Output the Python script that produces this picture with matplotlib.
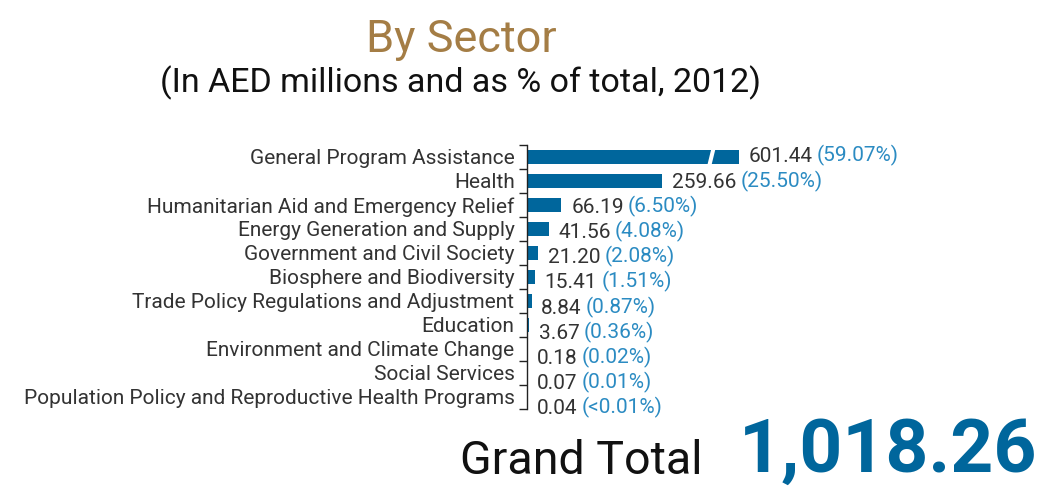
import matplotlib
matplotlib.use("Agg")
import matplotlib.pyplot as plt
from matplotlib.patches import Polygon

# ---------------------------------------------------------------- data
sectors = [
    "General Program Assistance",
    "Health",
    "Humanitarian Aid and Emergency Relief",
    "Energy Generation and Supply",
    "Government and Civil Society",
    "Biosphere and Biodiversity",
    "Trade Policy Regulations and Adjustment",
    "Education",
    "Environment and Climate Change",
    "Social Services",
    "Population Policy and Reproductive Health Programs",
]
values = [601.44, 259.66, 66.19, 41.56, 21.20, 15.41, 8.84, 3.67, 0.18, 0.07, 0.04]
shares = ["59.07%", "25.50%", "6.50%", "4.08%", "2.08%", "1.51%",
          "0.87%", "0.36%", "0.02%", "0.01%", "<0.01%"]
grand_total = "1,018.26"

title = "By Sector"
subtitle = "(In AED millions and as % of total, 2012)"

# ---------------------------------------------------------------- style
FONT = "Roboto"
BAR = "#00669c"
PCT = "#2b8bc2"
TXT = "#333333"
GOLD = "#a47d45"
BREAK_CAP = 408          # longest bar is cut at this length (broken bar)
LBL = 15

plt.rcParams["font.family"] = [FONT, "DejaVu Sans"]

fig = plt.figure(figsize=(10.43, 4.92), dpi=100)
W, H = 1043, 492
ax = fig.add_axes([527 / W, 1 - 409 / H, 516 / W, 264 / H])
ax.set_xlim(0, 992)
ax.set_ylim(len(sectors) - 0.5, -0.5)

shown = [min(v, BREAK_CAP) for v in values]
ax.barh(range(len(sectors)), shown, height=0.58, color=BAR, zorder=2)

# slanted gap in the cut bar
for i, v in enumerate(values):
    if v > BREAK_CAP:
        g = BREAK_CAP - 62
        gap = Polygon([(g, i + 0.4), (g + 8, i + 0.4), (g + 17, i - 0.4), (g + 9, i - 0.4)],
                      closed=True, facecolor="white", edgecolor="none", zorder=3)
        ax.add_patch(gap)

for s in ["top", "right", "bottom"]:
    ax.spines[s].set_visible(False)
ax.spines["left"].set_color("#222222")
ax.spines["left"].set_linewidth(1.0)
ax.set_xticks([])

# boundary ticks (major) and category labels (minor)
ax.set_yticks([k - 0.5 for k in range(len(sectors) + 1)])
ax.set_yticklabels([])
ax.tick_params(axis="y", which="major", length=6, width=1.0, color="#222222")
ax.set_yticks(range(len(sectors)), minor=True)
ax.set_yticklabels(sectors, minor=True, fontsize=LBL, color=TXT)
ax.tick_params(axis="y", which="minor", length=0, pad=9)

# value + share labels (they drift slightly downward in the original)
for i, v in enumerate(shown):
    yy = i * 25.2 / 24
    t1 = ax.annotate(f"{values[i]:.2f}", xy=(v, yy), xytext=(7, 0),
                     textcoords="offset points", ha="left", va="center",
                     fontsize=LBL, color=TXT, annotation_clip=False)
    ax.annotate(f"({shares[i]})", xy=(1, 0), xycoords=t1, xytext=(3, 0),
                textcoords="offset points", ha="left", va="bottom",
                fontsize=LBL, color=PCT, annotation_clip=False)

# titles
fig.text(461 / W, 1 - 52 / H, title, ha="center", va="baseline",
         fontsize=32.5, color=GOLD)
fig.text(460 / W, 1 - 92 / H, subtitle, ha="center", va="baseline",
         fontsize=24.5, color="#111111")

# grand total
fig.text(703 / W, 1 - 474 / H, "Grand Total", ha="right", va="baseline",
         fontsize=33.5, color="#111111")
fig.text(1037 / W, 1 - 472 / H, grand_total, ha="right", va="baseline",
         fontsize=54, fontweight="bold", color=BAR)

fig.savefig("out.png", dpi=100)
